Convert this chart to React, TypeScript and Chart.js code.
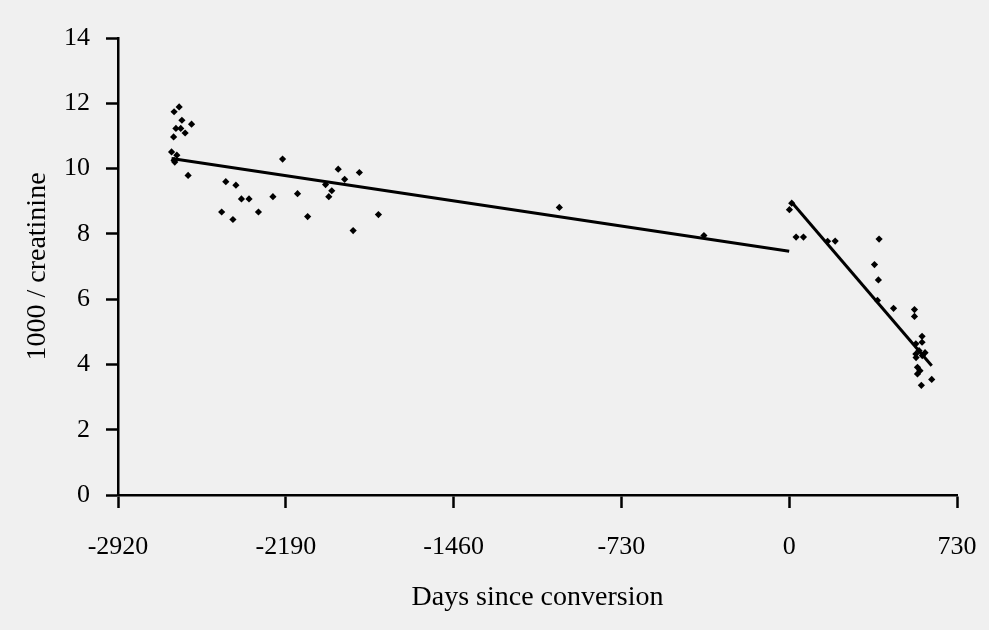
import React, { useEffect, useRef } from "react";
import { Chart, registerables } from "chart.js";

Chart.register(...registerables);

const xTickValues = [-2920, -2190, -1460, -730, 0, 730];
const yTickValues = [0, 2, 4, 6, 8, 10, 12, 14];

const dayValues = [
  -2676, -2654, -2642, -2600, -2668, -2647, -2628, -2678, -2687, -2664, -2676, -2673, -2615,
  -2451, -2407, -2469, -2420, -2383, -2350, -2309, -2246, -2204, -2139, -2095, -2017, -1990,
  -2003, -1962, -1934, -1870, -1897, -1787, -1000, -371, 1, 11, 30, 62, 167, 200, 391, 371,
  388, 384, 454, 545, 545, 578, 578, 551, 551, 565, 579, 552, 591, 558, 569, 558, 620, 575,
];
const ratioValues = [
  11.74, 11.89, 11.48, 11.36, 11.23, 11.23, 11.09, 10.97, 10.51, 10.41, 10.25, 10.2, 9.79,
  9.6, 9.49, 8.67, 8.44, 9.07, 9.07, 8.67, 9.14, 10.29, 9.23, 8.53, 9.51, 9.32,
  9.14, 9.98, 9.67, 9.88, 8.1, 8.59, 8.81, 7.95, 8.74, 8.94, 7.9, 7.9, 7.77, 7.78, 7.84, 7.06,
  6.59, 5.96, 5.72, 5.68, 5.47, 4.86, 4.68, 4.63, 4.32, 4.42, 4.27, 4.21, 4.36, 3.91, 3.81, 3.71, 3.54, 3.36,
];

const trendBeforeDays = [-2687, 0];
const trendBeforeValues = [10.31, 7.47];
const trendAfterDays = [11, 620];
const trendAfterValues = [8.97, 3.96];

const FONT = "'Liberation Serif', 'Times New Roman', serif";

export default function App() {
  const canvasRef = useRef<HTMLCanvasElement | null>(null);

  useEffect(() => {
    if (!canvasRef.current) return;
    const chart = new Chart(canvasRef.current, {
      type: "scatter",
      data: {
        datasets: [
          {
            data: dayValues.map((d, i) => ({ x: d, y: ratioValues[i] })),
            pointStyle: "rectRot",
            pointRadius: 3.6,
            backgroundColor: "#000",
            borderColor: "#000",
            borderWidth: 0,
            showLine: false,
          },
          {
            data: trendBeforeDays.map((d, i) => ({ x: d, y: trendBeforeValues[i] })),
            showLine: true,
            borderColor: "#000",
            borderWidth: 3,
            pointRadius: 0,
          },
          {
            data: trendAfterDays.map((d, i) => ({ x: d, y: trendAfterValues[i] })),
            showLine: true,
            borderColor: "#000",
            borderWidth: 3,
            pointRadius: 0,
          },
        ],
      },
      options: {
        animation: false,
        responsive: false,
        devicePixelRatio: 1,
        layout: { padding: { top: 38, right: 32, left: 0, bottom: 0 } },
        plugins: { legend: { display: false }, tooltip: { enabled: false } },
        scales: {
          x: {
            type: "linear",
            min: -2920,
            max: 730,
            afterBuildTicks: (s: any) => {
              s.ticks = xTickValues.map((v) => ({ value: v }));
            },
            afterFit: (s: any) => {
              s.height = 135;
              s.paddingLeft = 0;
              s.paddingRight = 0;
            },
            border: { display: true, color: "#000", width: 2.5 },
            grid: {
              display: true,
              drawOnChartArea: false,
              drawTicks: true,
              tickLength: 13,
              tickWidth: 2.5,
              tickColor: "#000",
            },
            ticks: {
              color: "#000",
              font: { family: FONT, size: 26 },
              padding: 24,
              maxRotation: 0,
              autoSkip: false,
              callback: (v: any) => String(v),
            },
            title: {
              display: true,
              text: "Days since conversion",
              color: "#000",
              font: { family: FONT, size: 28 },
              padding: { top: 0, bottom: 16 },
            },
          },
          y: {
            type: "linear",
            min: 0,
            max: 14,
            afterBuildTicks: (s: any) => {
              s.ticks = yTickValues.map((v) => ({ value: v }));
            },
            afterFit: (s: any) => {
              s.width = 118;
              s.paddingTop = 0;
              s.paddingBottom = 0;
            },
            border: { display: true, color: "#000", width: 2.5 },
            grid: {
              display: true,
              drawOnChartArea: false,
              drawTicks: true,
              tickLength: 12,
              tickWidth: 2.5,
              tickColor: "#000",
            },
            ticks: {
              color: "#000",
              font: { family: FONT, size: 26 },
              padding: 16,
              callback: (v: any) => String(v),
            },
            title: {
              display: true,
              text: "1000 / creatinine",
              color: "#000",
              font: { family: FONT, size: 28 },
              padding: { top: 21, bottom: 0 },
            },
          },
        },
      },
    });
    return () => chart.destroy();
  }, []);

  return (
    <div
      style={{
        position: "fixed",
        left: 0,
        top: 0,
        width: 989,
        height: 630,
        background: "#f0f0f0",
      }}
    >
      <canvas ref={canvasRef} width={989} height={630} style={{ display: "block" }} />
    </div>
  );
}
